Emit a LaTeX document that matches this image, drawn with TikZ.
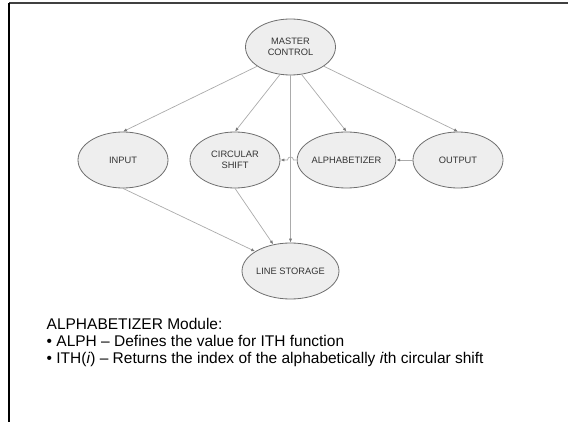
\documentclass[tikz,border=0pt]{standalone}
\usepackage{fontspec}
\setmainfont{Liberation Sans}
\usetikzlibrary{shapes.geometric,arrows.meta}
\definecolor{nodefill}{HTML}{EEEEEE}
\definecolor{nodeline}{HTML}{6E6E6E}
\definecolor{edgeline}{HTML}{ABABAB}
\definecolor{tipcol}{HTML}{7A7A7A}
\definecolor{labeltext}{HTML}{333333}
\tikzset{
  module/.style={ellipse, draw=nodeline, fill=nodefill, line width=0.8pt,
    minimum width=90pt, minimum height=56pt, inner sep=0pt, align=center,
    text=labeltext, font=\fontsize{9.3}{10.7}\selectfont},
  link/.style={draw=edgeline, line width=0.7pt,
    -{Latex[length=4pt,width=3.2pt,color=tipcol,fill=tipcol]}},
  noteline/.style={anchor=base west, inner sep=0pt, text=black,
    font=\fontsize{15.5}{16.7}\selectfont}
}
\begin{document}
\begin{tikzpicture}[x=1pt,y=-1pt]
\useasboundingbox (0,0) rectangle (568,422);
% slide frame edges
\draw[line width=1.4pt, color=black!75] (9,3) -- (568,3);
\draw[line width=1.3pt, color=black] (9,3) -- (9,422);

% modules
\node[module] (MC) at (290.5,47) {MASTER\\CONTROL};
\node[module] (IN) at (123,160) {INPUT};
\node[module] (CS) at (235,160) {CIRCULAR\\SHIFT};
\node[module] (AL) at (346.5,160) {ALPHABETIZER};
\node[module] (OUT) at (458,160) {OUTPUT};
\node[module] (LS) at (290.5,271) {LINE STORAGE};

% control flow from the master module
\draw[link] (MC.210) -- (IN.north);
\draw[link] (MC.249) -- (CS.north);
\draw[link] (MC.south) -- (LS.north);
\draw[link] (MC.292) -- (AL.north);
\draw[link] (MC.330) -- (OUT.north);

% data passed between modules
\draw[link] (OUT.west) -- (AL.east);
\coordinate (hop) at (MC.south |- CS.east);
\draw[link] (AL.west) -- ([xshift=3pt]hop)
  .. controls +(0,-4) and +(0,-4) .. ([xshift=-3pt]hop) -- (CS.east);
\draw[link] (IN.south) -- (LS.151);
\draw[link] (CS.south) -- (LS.123);

% notes
\node[noteline] (n1) at (46.5,330) {ALPHABETIZER Module:};
\node[noteline] (n2) at (46.5,346.7) {• ALPH – Defines the value for ITH function};
\node[noteline] (n3) at (46.5,363.3) {• ITH(\textit{i}) – Returns the index of the alphabetically \textit{i}th circular shift};
\end{tikzpicture}
\end{document}
